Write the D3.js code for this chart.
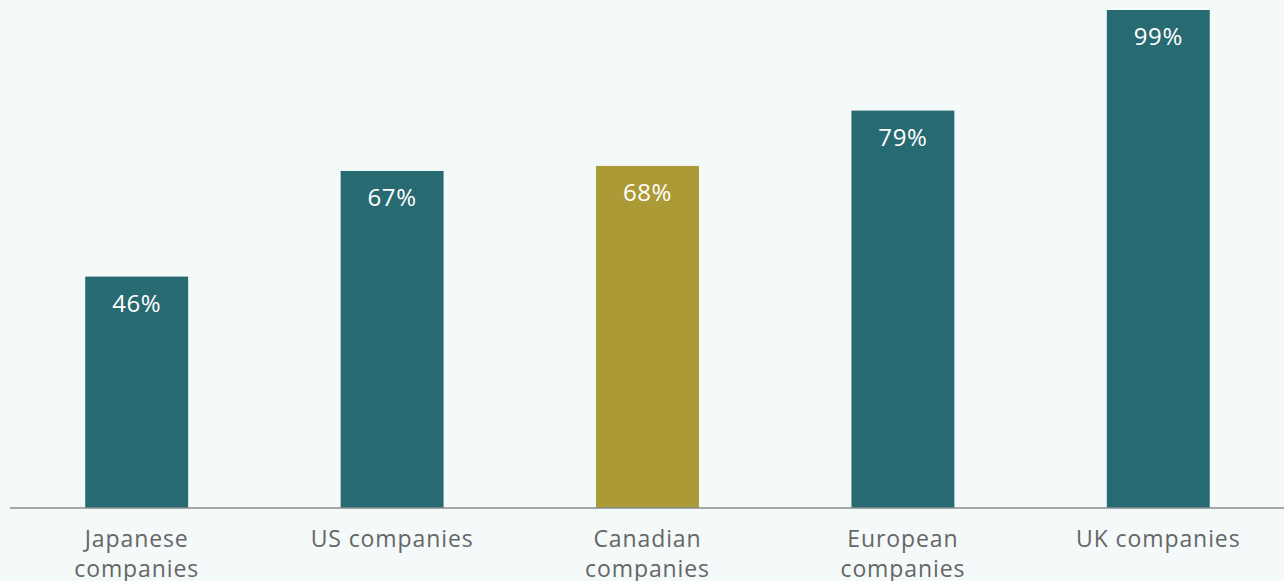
<!DOCTYPE html>
<html>
<head>
<meta charset="utf-8">
<script src="https://cdn.jsdelivr.net/npm/d3@7"></script>
<style>
    html, body { margin: 0; padding: 0; background: #f4f9f9; }
    svg { display: block; }
</style>
</head>
<body>
<div id="chart"></div>
<script>
var categories = ["Japanese companies", "US companies", "Canadian companies", "European companies", "UK companies"];
var values = [46, 67, 68, 79, 99];
var highlight = ["Canadian companies"];

var width = 1284, height = 581;
var baseline = 508;

var svg = d3.select("#chart").append("svg")
    .attr("width", width)
    .attr("height", height);

var x = d3.scaleBand()
    .domain(categories)
    .range([9, 1286])
    .paddingInner(0.597)
    .paddingOuter(0.2985);

var y = d3.scaleLinear()
    .domain([0, 99])
    .range([baseline, 10]);

// BARS
svg.selectAll("rect.bar")
    .data(categories)
    .enter()
    .append("rect")
    .attr("class", "bar")
    .attr("x", function(d) { return x(d); })
    .attr("y", function(d, i) { return y(values[i]); })
    .attr("width", x.bandwidth())
    .attr("height", function(d, i) { return baseline - y(values[i]); })
    .attr("fill", function(d) {
        return highlight.indexOf(d) >= 0 ? "#ab9a35" : "#286a72";
    });

// VALUE LABELS
svg.selectAll("text.value")
    .data(categories)
    .enter()
    .append("text")
    .attr("class", "value")
    .attr("x", function(d) { return x(d) + x.bandwidth() / 2; })
    .attr("y", function(d, i) { return y(values[i]) + 35; })
    .attr("text-anchor", "middle")
    .attr("fill", "#ffffff")
    .style("font-family", "'Open Sans', sans-serif")
    .style("font-size", "24px")
    .style("letter-spacing", "0.6px")
    .text(function(d, i) { return values[i] + "%"; });

// X AXIS
var xAxis = d3.axisBottom(x).tickSize(0).tickPadding(0);

var axisG = svg.append("g")
    .attr("transform", "translate(0," + baseline + ")")
    .call(xAxis);

axisG.select(".domain")
    .attr("d", "M10,0H1284")
    .attr("stroke", "#8a8c8c")
    .attr("stroke-width", 1.5);

axisG.selectAll(".tick text").remove();

axisG.selectAll(".tick").each(function(d) {
    var words = d.split(" ");
    var lines = d.length > 14 ? [words.slice(0, -1).join(" "), words[words.length - 1]] : [d];
    var t = d3.select(this).append("text")
        .attr("text-anchor", "middle")
        .attr("fill", "#666666")
        .style("font-family", "'Open Sans', sans-serif")
        .style("font-size", "23px")
        .style("letter-spacing", "0.9px");
    lines.forEach(function(line, k) {
        t.append("tspan")
            .attr("x", 0)
            .attr("y", 39 + k * 30)
            .text(line);
    });
});
</script>
</body>
</html>
